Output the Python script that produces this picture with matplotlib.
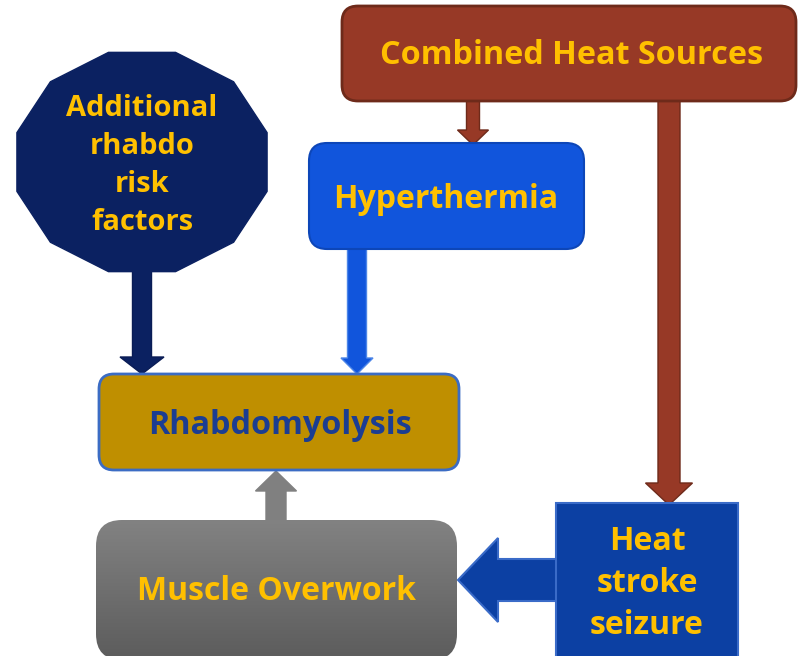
import numpy as np
import matplotlib
matplotlib.use("Agg")
import matplotlib.pyplot as plt
from matplotlib.patches import FancyBboxPatch, Polygon, Rectangle

# box labels
label_risk = ["Additional", "rhabdo", "risk", "factors"]
label_heat = "Combined Heat Sources"
label_hyper = "Hyperthermia"
label_rhabdo = "Rhabdomyolysis"
label_muscle = "Muscle Overwork"
label_stroke = ["Heat", "stroke", "seizure"]

GOLD = "#ffc000"
FONT = "Open Sans"

fig = plt.figure(figsize=(8.03, 6.56), dpi=100)
ax = fig.add_axes([0, 0, 1, 1])
ax.set_xlim(0, 803)
ax.set_ylim(656, 0)
ax.axis("off")


def rbox(x0, y0, x1, y1, r, fc, ec, lw=1.5, z=2):
    p = FancyBboxPatch((x0 + r, y0 + r), (x1 - x0) - 2 * r, (y1 - y0) - 2 * r,
                       boxstyle=f"round,pad={r},rounding_size={r}",
                       fc=fc, ec=ec, lw=lw, zorder=z)
    ax.add_patch(p)
    return p


def arrow(x0, y0, x1, y1, sw, hw, hl, fc, ec, lw=1.0, z=1):
    # straight vertical / horizontal block arrow
    L = np.hypot(x1 - x0, y1 - y0)
    ux, uy = (x1 - x0) / L, (y1 - y0) / L
    px, py = -uy, ux
    b = L - hl
    pts_local = [(0, sw / 2), (b, sw / 2), (b, hw / 2), (L, 0),
                 (b, -hw / 2), (b, -sw / 2), (0, -sw / 2)]
    pts = [(x0 + s * ux + t * px, y0 + s * uy + t * py) for s, t in pts_local]
    ax.add_patch(Polygon(pts, closed=True, fc=fc, ec=ec, lw=lw, zorder=z,
                         joinstyle="miter"))


def txt(x, y, s, size, color=GOLD):
    # +3 px: va=center counts the descent, the reference centres on the caps
    ax.text(x, y + 3, s, ha="center", va="center", fontsize=size, color=color,
            fontweight="bold", family=[FONT, "DejaVu Sans"], zorder=10)


# dodecagon "risk factors"
cx, cy = 142, 162
a, b = 129.5, 113.5
ang = np.deg2rad(np.arange(15, 360, 30))
poly = np.column_stack([cx + a * np.cos(ang), cy - b * np.sin(ang)])
ax.add_patch(Polygon(poly, closed=True, fc="#0b2161", ec="#0b2161", lw=1, zorder=3))
for i, line in enumerate(label_risk):
    txt(cx, 105 + i * 38, line, 21)

# arrows
arrow(142, 262, 142, 374, 19, 44, 17, "#0b2161", "#0a1c55")
arrow(473, 98, 473, 145, 13, 31, 15, "#973926", "#6e2a1a")
arrow(669, 98, 669, 505, 22, 47, 22, "#973926", "#6e2a1a")
arrow(357, 248, 357, 374, 19, 32, 16, "#1155dc", "#4d86e8")
arrow(276, 522, 276, 471, 20, 41, 20, "#808080", "#808080")
arrow(560, 580, 458, 580, 42, 84, 40, "#0c40a3", "#3a6bc8", lw=1.5)

# Combined Heat Sources
rbox(342, 6, 796, 101, 16, "#973926", "#6e2a1a", lw=2, z=4)
txt(572, 53, label_heat, 23.3)

# Hyperthermia
rbox(309, 143, 584, 249, 18, "#1155dc", "#0d46b8", lw=1.5, z=4)
txt(446, 196, label_hyper, 23)

# Rhabdomyolysis
rbox(99, 374, 459, 470, 15, "#bf8f00", "#3b6cc4", lw=2, z=4)
txt(280, 422, label_rhabdo, 23.3, color="#1b3d92")

# Muscle Overwork (gradient grey)
mo = rbox(96, 520, 457, 660, 26, "none", "none", lw=0, z=4)
grad = np.linspace(0, 1, 256).reshape(-1, 1)
im = ax.imshow(grad, extent=(96, 457, 660, 520), cmap=matplotlib.colors.LinearSegmentedColormap.from_list(
    "g", ["#828282", "#5c5c5c"]), aspect="auto", zorder=4)
im.set_clip_path(mo)
txt(277, 588, label_muscle, 23)

# Heat stroke seizure
ax.add_patch(Rectangle((556, 503), 182, 160, fc="#0c40a3", ec="#3a6bc8", lw=1.5, zorder=4))
for i, line in enumerate(label_stroke):
    txt(647, 538 + i * 42, line, 23)

ax.set_xlim(0, 803)
ax.set_ylim(656, 0)
fig.savefig("out.png", dpi=100)
